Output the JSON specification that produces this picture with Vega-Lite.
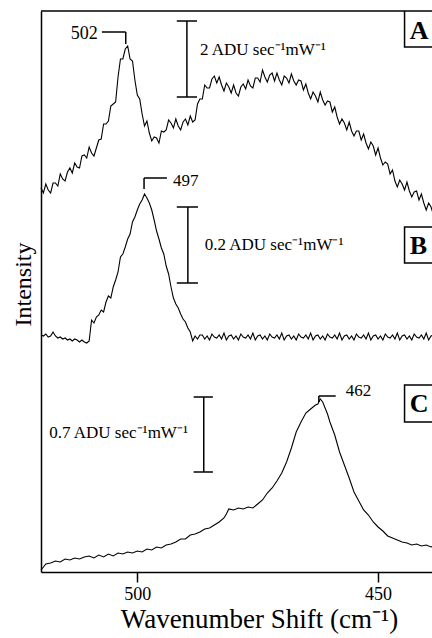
{
  "$schema": "https://vega.github.io/schema/vega-lite/v6.json",
  "width": 391,
  "height": 561,
  "autosize": {"type": "none"},
  "padding": {"left": 41, "top": 11, "right": 0, "bottom": 66},
  "background": "white",
  "config": {
    "view": {"stroke": null},
    "font": "Liberation Serif, Times New Roman, serif",
    "text": {"font": "Liberation Serif, Times New Roman, serif", "color": "black"}
  },
  "datasets": {
    "spectra": [
      {"s":"A","w":520,"v":384},{"s":"A","w":519.5,"v":379},{"s":"A","w":519,"v":388},{"s":"A","w":518.5,"v":382},{"s":"A","w":518,"v":379},{"s":"A","w":517.5,"v":389},{"s":"A","w":517,"v":389},{"s":"A","w":516.5,"v":386},{"s":"A","w":516,"v":398},{"s":"A","w":515.5,"v":393},{"s":"A","w":515,"v":391},{"s":"A","w":514.5,"v":400},{"s":"A","w":514,"v":404},{"s":"A","w":513.5,"v":399},{"s":"A","w":513,"v":409},{"s":"A","w":512.5,"v":405},{"s":"A","w":512,"v":404},{"s":"A","w":511.5,"v":416},{"s":"A","w":511,"v":417},{"s":"A","w":510.5,"v":414},{"s":"A","w":510,"v":425},{"s":"A","w":509.5,"v":419},{"s":"A","w":509,"v":416},{"s":"A","w":508.5,"v":424},{"s":"A","w":508,"v":432},{"s":"A","w":507.5,"v":433},{"s":"A","w":507,"v":448},{"s":"A","w":506.5,"v":448},{"s":"A","w":506,"v":451},{"s":"A","w":505.5,"v":466},{"s":"A","w":505,"v":468},{"s":"A","w":504.5,"v":470},{"s":"A","w":504,"v":495},{"s":"A","w":503.5,"v":513},{"s":"A","w":503,"v":513},{"s":"A","w":502.5,"v":523},{"s":"A","w":502,"v":526},{"s":"A","w":501.5,"v":513},{"s":"A","w":501,"v":511},{"s":"A","w":500.5,"v":492},{"s":"A","w":500,"v":477},{"s":"A","w":499.5,"v":473},{"s":"A","w":499,"v":458},{"s":"A","w":498.5,"v":446},{"s":"A","w":498,"v":451},{"s":"A","w":497.5,"v":439},{"s":"A","w":497,"v":431},{"s":"A","w":496.5,"v":435},{"s":"A","w":496,"v":434},{"s":"A","w":495.5,"v":429},{"s":"A","w":495,"v":441},{"s":"A","w":494.5,"v":440},{"s":"A","w":494,"v":442},{"s":"A","w":493.5,"v":452},{"s":"A","w":493,"v":449},{"s":"A","w":492.5,"v":444},{"s":"A","w":492,"v":453},{"s":"A","w":491.5,"v":446},{"s":"A","w":491,"v":442},{"s":"A","w":490.5,"v":450},{"s":"A","w":490,"v":453},{"s":"A","w":489.5,"v":447},{"s":"A","w":489,"v":456},{"s":"A","w":488.5,"v":450},{"s":"A","w":488,"v":452},{"s":"A","w":487.5,"v":468},{"s":"A","w":487,"v":473},{"s":"A","w":486.5,"v":473},{"s":"A","w":486,"v":487},{"s":"A","w":485.5,"v":484},{"s":"A","w":485,"v":484},{"s":"A","w":484.5,"v":493},{"s":"A","w":484,"v":496},{"s":"A","w":483.5,"v":489},{"s":"A","w":483,"v":495},{"s":"A","w":482.5,"v":487},{"s":"A","w":482,"v":481},{"s":"A","w":481.5,"v":489},{"s":"A","w":481,"v":485},{"s":"A","w":480.5,"v":479},{"s":"A","w":480,"v":487},{"s":"A","w":479.5,"v":479},{"s":"A","w":479,"v":476},{"s":"A","w":478.5,"v":485},{"s":"A","w":478,"v":488},{"s":"A","w":477.5,"v":483},{"s":"A","w":477,"v":492},{"s":"A","w":476.5,"v":486},{"s":"A","w":476,"v":484},{"s":"A","w":475.5,"v":494},{"s":"A","w":475,"v":494},{"s":"A","w":474.5,"v":490},{"s":"A","w":474,"v":502},{"s":"A","w":473.5,"v":495},{"s":"A","w":473,"v":490},{"s":"A","w":472.5,"v":497},{"s":"A","w":472,"v":499},{"s":"A","w":471.5,"v":491},{"s":"A","w":471,"v":499},{"s":"A","w":470.5,"v":492},{"s":"A","w":470,"v":487},{"s":"A","w":469.5,"v":496},{"s":"A","w":469,"v":494},{"s":"A","w":468.5,"v":489},{"s":"A","w":468,"v":498},{"s":"A","w":467.5,"v":491},{"s":"A","w":467,"v":487},{"s":"A","w":466.5,"v":492},{"s":"A","w":466,"v":491},{"s":"A","w":465.5,"v":482},{"s":"A","w":465,"v":488},{"s":"A","w":464.5,"v":479},{"s":"A","w":464,"v":473},{"s":"A","w":463.5,"v":480},{"s":"A","w":463,"v":476},{"s":"A","w":462.5,"v":470},{"s":"A","w":462,"v":480},{"s":"A","w":461.5,"v":472},{"s":"A","w":461,"v":467},{"s":"A","w":460.5,"v":471},{"s":"A","w":460,"v":470},{"s":"A","w":459.5,"v":460},{"s":"A","w":459,"v":465},{"s":"A","w":458.5,"v":455},{"s":"A","w":458,"v":448},{"s":"A","w":457.5,"v":453},{"s":"A","w":457,"v":449},{"s":"A","w":456.5,"v":442},{"s":"A","w":456,"v":450},{"s":"A","w":455.5,"v":441},{"s":"A","w":455,"v":436},{"s":"A","w":454.5,"v":441},{"s":"A","w":454,"v":441},{"s":"A","w":453.5,"v":432},{"s":"A","w":453,"v":438},{"s":"A","w":452.5,"v":429},{"s":"A","w":452,"v":423},{"s":"A","w":451.5,"v":430},{"s":"A","w":451,"v":426},{"s":"A","w":450.5,"v":417},{"s":"A","w":450,"v":424},{"s":"A","w":449.5,"v":414},{"s":"A","w":449,"v":407},{"s":"A","w":448.5,"v":410},{"s":"A","w":448,"v":408},{"s":"A","w":447.5,"v":398},{"s":"A","w":447,"v":402},{"s":"A","w":446.5,"v":391},{"s":"A","w":446,"v":385},{"s":"A","w":445.5,"v":392},{"s":"A","w":445,"v":388},{"s":"A","w":444.5,"v":382},{"s":"A","w":444,"v":390},{"s":"A","w":443.5,"v":381},{"s":"A","w":443,"v":375},{"s":"A","w":442.5,"v":380},{"s":"A","w":442,"v":381},{"s":"A","w":441.5,"v":372},{"s":"A","w":441,"v":378},{"s":"A","w":440.5,"v":369},{"s":"A","w":440,"v":362},{"s":"A","w":439.5,"v":369},{"s":"A","w":439,"v":365},{"s":"A","w":438.5,"v":357},

      {"s":"B","w":520,"v":237},{"s":"B","w":519.5,"v":236},{"s":"B","w":519,"v":238},{"s":"B","w":518.5,"v":235},{"s":"B","w":518,"v":236},{"s":"B","w":517.5,"v":240},{"s":"B","w":517,"v":236},{"s":"B","w":516.5,"v":234},{"s":"B","w":516,"v":235},{"s":"B","w":515.5,"v":233},{"s":"B","w":515,"v":234},{"s":"B","w":514.5,"v":232},{"s":"B","w":514,"v":233},{"s":"B","w":513.5,"v":231},{"s":"B","w":513,"v":233},{"s":"B","w":512.5,"v":232},{"s":"B","w":512,"v":230},{"s":"B","w":511.5,"v":232},{"s":"B","w":511,"v":230},{"s":"B","w":510.5,"v":229},{"s":"B","w":510,"v":231},{"s":"B","w":509.5,"v":252},{"s":"B","w":509,"v":249},{"s":"B","w":508.5,"v":255},{"s":"B","w":508,"v":257},{"s":"B","w":507.5,"v":262},{"s":"B","w":507,"v":260},{"s":"B","w":506.5,"v":270},{"s":"B","w":506,"v":276},{"s":"B","w":505.5,"v":274},{"s":"B","w":505,"v":285},{"s":"B","w":504.5,"v":292},{"s":"B","w":504,"v":300},{"s":"B","w":503.5,"v":315},{"s":"B","w":503,"v":318},{"s":"B","w":502.5,"v":325},{"s":"B","w":502,"v":333},{"s":"B","w":501.5,"v":338},{"s":"B","w":501,"v":350},{"s":"B","w":500.5,"v":355},{"s":"B","w":500,"v":362},{"s":"B","w":499.5,"v":368},{"s":"B","w":499,"v":372},{"s":"B","w":498.5,"v":378},{"s":"B","w":498,"v":374},{"s":"B","w":497.5,"v":369},{"s":"B","w":497,"v":362},{"s":"B","w":496.5,"v":352},{"s":"B","w":496,"v":341},{"s":"B","w":495.5,"v":333},{"s":"B","w":495,"v":324},{"s":"B","w":494.5,"v":318},{"s":"B","w":494,"v":306},{"s":"B","w":493.5,"v":298},{"s":"B","w":493,"v":285},{"s":"B","w":492.5,"v":274},{"s":"B","w":492,"v":268},{"s":"B","w":491.5,"v":264},{"s":"B","w":491,"v":258},{"s":"B","w":490.5,"v":253},{"s":"B","w":490,"v":250},{"s":"B","w":489.5,"v":244},{"s":"B","w":489,"v":240},{"s":"B","w":488.5,"v":231},{"s":"B","w":488,"v":236},{"s":"B","w":487.5,"v":233},{"s":"B","w":487,"v":237},{"s":"B","w":486.5,"v":237},{"s":"B","w":486,"v":233},{"s":"B","w":485.5,"v":236},{"s":"B","w":485,"v":232},{"s":"B","w":484.5,"v":238},{"s":"B","w":484,"v":235},{"s":"B","w":483.5,"v":234},{"s":"B","w":483,"v":237},{"s":"B","w":482.5,"v":233},{"s":"B","w":482,"v":239},{"s":"B","w":481.5,"v":232},{"s":"B","w":481,"v":236},{"s":"B","w":480.5,"v":237},{"s":"B","w":480,"v":233},{"s":"B","w":479.5,"v":236},{"s":"B","w":479,"v":232},{"s":"B","w":478.5,"v":238},{"s":"B","w":478,"v":235},{"s":"B","w":477.5,"v":234},{"s":"B","w":477,"v":237},{"s":"B","w":476.5,"v":233},{"s":"B","w":476,"v":239},{"s":"B","w":475.5,"v":232},{"s":"B","w":475,"v":236},{"s":"B","w":474.5,"v":237},{"s":"B","w":474,"v":233},{"s":"B","w":473.5,"v":236},{"s":"B","w":473,"v":232},{"s":"B","w":472.5,"v":238},{"s":"B","w":472,"v":235},{"s":"B","w":471.5,"v":234},{"s":"B","w":471,"v":237},{"s":"B","w":470.5,"v":233},{"s":"B","w":470,"v":239},{"s":"B","w":469.5,"v":232},{"s":"B","w":469,"v":236},{"s":"B","w":468.5,"v":237},{"s":"B","w":468,"v":233},{"s":"B","w":467.5,"v":236},{"s":"B","w":467,"v":232},{"s":"B","w":466.5,"v":238},{"s":"B","w":466,"v":235},{"s":"B","w":465.5,"v":234},{"s":"B","w":465,"v":237},{"s":"B","w":464.5,"v":233},{"s":"B","w":464,"v":239},{"s":"B","w":463.5,"v":232},{"s":"B","w":463,"v":236},{"s":"B","w":462.5,"v":237},{"s":"B","w":462,"v":233},{"s":"B","w":461.5,"v":236},{"s":"B","w":461,"v":232},{"s":"B","w":460.5,"v":238},{"s":"B","w":460,"v":235},{"s":"B","w":459.5,"v":234},{"s":"B","w":459,"v":237},{"s":"B","w":458.5,"v":233},{"s":"B","w":458,"v":239},{"s":"B","w":457.5,"v":232},{"s":"B","w":457,"v":236},{"s":"B","w":456.5,"v":237},{"s":"B","w":456,"v":233},{"s":"B","w":455.5,"v":236},{"s":"B","w":455,"v":232},{"s":"B","w":454.5,"v":238},{"s":"B","w":454,"v":235},{"s":"B","w":453.5,"v":234},{"s":"B","w":453,"v":237},{"s":"B","w":452.5,"v":233},{"s":"B","w":452,"v":239},{"s":"B","w":451.5,"v":232},{"s":"B","w":451,"v":236},{"s":"B","w":450.5,"v":237},{"s":"B","w":450,"v":233},{"s":"B","w":449.5,"v":236},{"s":"B","w":449,"v":232},{"s":"B","w":448.5,"v":238},{"s":"B","w":448,"v":235},{"s":"B","w":447.5,"v":234},{"s":"B","w":447,"v":237},{"s":"B","w":446.5,"v":233},{"s":"B","w":446,"v":239},{"s":"B","w":445.5,"v":232},{"s":"B","w":445,"v":236},{"s":"B","w":444.5,"v":237},{"s":"B","w":444,"v":233},{"s":"B","w":443.5,"v":236},{"s":"B","w":443,"v":232},{"s":"B","w":442.5,"v":238},{"s":"B","w":442,"v":235},{"s":"B","w":441.5,"v":234},{"s":"B","w":441,"v":237},{"s":"B","w":440.5,"v":233},{"s":"B","w":440,"v":239},{"s":"B","w":439.5,"v":232},{"s":"B","w":439,"v":236},{"s":"B","w":438.5,"v":237},

      {"s":"C","w":520,"v":2},{"s":"C","w":519.5,"v":5},{"s":"C","w":519,"v":8},{"s":"C","w":518,"v":9},{"s":"C","w":517,"v":11},{"s":"C","w":516,"v":10},{"s":"C","w":515,"v":13},{"s":"C","w":514,"v":12},{"s":"C","w":513,"v":14},{"s":"C","w":512,"v":13},{"s":"C","w":511,"v":15},{"s":"C","w":510,"v":16},{"s":"C","w":509,"v":14},{"s":"C","w":508,"v":17},{"s":"C","w":507,"v":15},{"s":"C","w":506,"v":18},{"s":"C","w":505,"v":16},{"s":"C","w":504,"v":19},{"s":"C","w":503,"v":18},{"s":"C","w":502,"v":20},{"s":"C","w":501,"v":19},{"s":"C","w":500,"v":21},{"s":"C","w":499,"v":20},{"s":"C","w":498,"v":23},{"s":"C","w":497,"v":22},{"s":"C","w":496,"v":25},{"s":"C","w":495,"v":24},{"s":"C","w":494,"v":27},{"s":"C","w":493,"v":28},{"s":"C","w":492,"v":30},{"s":"C","w":491,"v":33},{"s":"C","w":490,"v":33},{"s":"C","w":489,"v":37},{"s":"C","w":488,"v":38},{"s":"C","w":487,"v":40},{"s":"C","w":486,"v":43},{"s":"C","w":485,"v":44},{"s":"C","w":484,"v":47},{"s":"C","w":483,"v":50},{"s":"C","w":482,"v":54},{"s":"C","w":481.5,"v":58},{"s":"C","w":481,"v":63},{"s":"C","w":480,"v":62},{"s":"C","w":479,"v":64},{"s":"C","w":478,"v":63},{"s":"C","w":477,"v":65},{"s":"C","w":476,"v":64},{"s":"C","w":475,"v":68},{"s":"C","w":474,"v":72},{"s":"C","w":473,"v":79},{"s":"C","w":472,"v":84},{"s":"C","w":471,"v":91},{"s":"C","w":470,"v":99},{"s":"C","w":469,"v":110},{"s":"C","w":468,"v":124},{"s":"C","w":467,"v":140},{"s":"C","w":466,"v":150},{"s":"C","w":465,"v":159},{"s":"C","w":464,"v":163},{"s":"C","w":463,"v":167},{"s":"C","w":462.5,"v":168},{"s":"C","w":462,"v":173},{"s":"C","w":461.5,"v":170},{"s":"C","w":461,"v":164},{"s":"C","w":460.5,"v":158},{"s":"C","w":460,"v":150},{"s":"C","w":459,"v":137},{"s":"C","w":458,"v":120},{"s":"C","w":457,"v":107},{"s":"C","w":456,"v":94},{"s":"C","w":455,"v":80},{"s":"C","w":454,"v":71},{"s":"C","w":453,"v":62},{"s":"C","w":452,"v":57},{"s":"C","w":451,"v":50},{"s":"C","w":450,"v":45},{"s":"C","w":449,"v":41},{"s":"C","w":448,"v":36},{"s":"C","w":447,"v":34},{"s":"C","w":446,"v":32},{"s":"C","w":445,"v":30},{"s":"C","w":444,"v":29},{"s":"C","w":443,"v":27},{"s":"C","w":442,"v":28},{"s":"C","w":441,"v":26},{"s":"C","w":440,"v":27},{"s":"C","w":439,"v":25},{"s":"C","w":438.5,"v":26}
    ],
    "rules": [
      {"w":520,"w2":438.8,"v":561,"v2":561},
      {"w":507.35,"w2":502.4,"v":540,"v2":540},
      {"w":502.4,"w2":502.4,"v":540,"v2":528},
      {"w":489.7,"w2":489.7,"v":551,"v2":475},
      {"w":491.8,"w2":487.6,"v":551,"v2":551},
      {"w":491.8,"w2":487.6,"v":475,"v2":475},
      {"w":498.6,"w2":493.85,"v":394,"v2":394},
      {"w":498.6,"w2":498.6,"v":394,"v2":383},
      {"w":489.5,"w2":489.5,"v":365,"v2":289},
      {"w":491.8,"w2":487.4,"v":365,"v2":365},
      {"w":491.8,"w2":487.4,"v":289,"v2":289},
      {"w":462.3,"w2":458.8,"v":176,"v2":176},
      {"w":462.3,"w2":462.3,"v":176,"v2":170},
      {"w":486.2,"w2":486.2,"v":175,"v2":100},
      {"w":488.3,"w2":484.3,"v":175,"v2":175},
      {"w":488.3,"w2":484.3,"v":100,"v2":100}
    ],
    "labelsLeft": [
      {"w":492.6,"v":391,"t":"497"},
      {"w":456.7,"v":181,"t":"462"},
      {"w":487.0,"v":522,"t":"2 ADU sec⁻¹mW⁻¹"},
      {"w":486.0,"v":327,"t":"0.2 ADU sec⁻¹mW⁻¹"},
      {"w":518.3,"v":139,"t":"0.7 ADU sec⁻¹mW⁻¹"}
    ],
    "labelsRight": [
      {"w":508.2,"v":538,"t":"502"}
    ],
    "boxes": [
      {"w":444.5,"w2":436,"v":561,"v2":525,"tw":443.4,"tv":541,"t":"A"},
      {"w":444.5,"w2":436,"v":345,"v2":309,"tw":443.4,"tv":326,"t":"B"},
      {"w":444.5,"w2":436,"v":187,"v2":150,"tw":443.4,"tv":168,"t":"C"}
    ]
  },
  "encoding": {
    "x": {
      "field": "w", "type": "quantitative",
      "scale": {"domain": [438.8, 520], "reverse": true, "nice": false, "zero": false},
      "axis": {
        "values": [500, 450], "format": "d", "grid": false,
        "domainColor": "black", "domainWidth": 1.5,
        "tickColor": "black", "tickWidth": 1.5, "tickSize": 10,
        "labelFont": "Liberation Serif, Times New Roman, serif", "labelFontSize": 18, "labelColor": "black", "labelPadding": 3,
        "title": "Wavenumber Shift (cm⁻¹)", "titleFont": "Liberation Serif, Times New Roman, serif", "titleFontSize": 27,
        "titleFontWeight": "normal", "titleColor": "black", "titlePadding": 3, "titleX": 218
      }
    },
    "y": {
      "field": "v", "type": "quantitative",
      "scale": {"domain": [0, 561], "nice": false, "zero": false},
      "axis": {
        "labels": false, "ticks": false, "grid": false,
        "domainColor": "black", "domainWidth": 1.5,
        "title": "Intensity", "titleFont": "Liberation Serif, Times New Roman, serif", "titleFontSize": 24,
        "titleFontWeight": "normal", "titleColor": "black", "titlePadding": 6, "titleY": 273
      }
    }
  },
  "layer": [
    {
      "data": {"name": "spectra"},
      "mark": {"type": "line", "color": "black", "strokeWidth": 1.1},
      "encoding": {"detail": {"field": "s"}}
    },
    {
      "data": {"name": "rules"},
      "mark": {"type": "rule", "color": "black", "strokeWidth": 1.5},
      "encoding": {"x2": {"field": "w2"}, "y2": {"field": "v2"}}
    },
    {
      "data": {"name": "labelsLeft"},
      "mark": {"type": "text", "align": "left", "baseline": "middle", "fontSize": 17, "font": "Liberation Serif, Times New Roman, serif"},
      "encoding": {"text": {"field": "t"}}
    },
    {
      "data": {"name": "labelsRight"},
      "mark": {"type": "text", "align": "right", "baseline": "middle", "fontSize": 18, "font": "Liberation Serif, Times New Roman, serif"},
      "encoding": {"text": {"field": "t"}}
    },
    {
      "data": {"name": "boxes"},
      "mark": {"type": "rect", "fill": "white", "stroke": "black", "strokeWidth": 1.5, "clip": true},
      "encoding": {"x2": {"field": "w2"}, "y2": {"field": "v2"}}
    },
    {
      "data": {"name": "boxes"},
      "mark": {"type": "text", "align": "left", "baseline": "middle", "fontSize": 26, "fontWeight": "bold", "font": "Liberation Serif, Times New Roman, serif", "clip": true},
      "encoding": {
        "x": {"field": "tw", "type": "quantitative"},
        "y": {"field": "tv", "type": "quantitative"},
        "text": {"field": "t"}
      }
    }
  ]
}
